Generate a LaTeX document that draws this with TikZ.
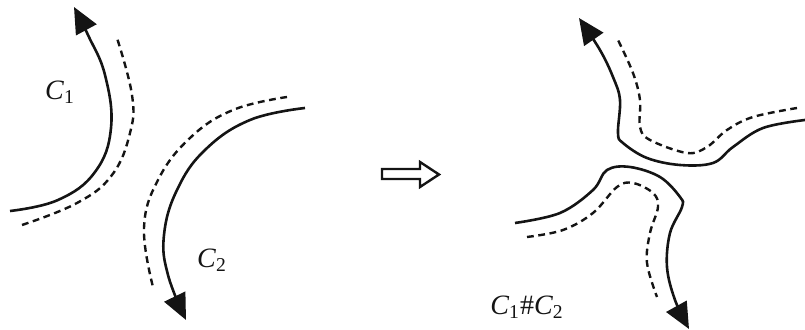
\documentclass[tikz,border=0pt]{standalone}
\usepackage{fontspec}
\setmainfont{Liberation Serif}
\usetikzlibrary{arrows,arrows.meta}
\definecolor{strich}{RGB}{20,20,20}

\begin{document}
\begin{tikzpicture}[strich, x=0.5pt, y=-0.5pt,
    curve/.style={line width=1.3pt, -{Triangle[length=13pt,width=11.5pt]}},
    guide/.style={line width=1.2pt, dash pattern=on 3.4pt off 2.3pt},
    lbl/.style={font=\fontsize{14}{16}\selectfont, inner sep=0pt}]

    \useasboundingbox (0,0) rectangle (805,330);

    % linke Seite: C_1 und C_2
    \draw[curve] plot[smooth, tension=0.7] coordinates {(10,211) (58,200) (95,172) (111,128) (105,75) (88,35) (74,7)};
    \draw[guide] plot[smooth, tension=0.7] coordinates {(22,225) (77,203) (112,175) (130,133) (132,95) (117,38)};

    \draw[curve] plot[smooth, tension=0.7] coordinates {(305,108) (250,120) (205,150) (177,190) (164,235) (168,275) (186,320)};
    \draw[guide] plot[smooth, tension=0.7] coordinates {(287,97) (233,110) (190,138) (158,180) (144,228) (153,287)};

    \node[lbl] (c1) at (60,92) {\textit{C}\textsubscript{1}};
    \node[lbl] (c2) at (212,260) {\textit{C}\textsubscript{2}};

    % Pfeil
    \draw[line width=1.2pt, fill=white] (382,169) -- (420,169) -- (420,162) -- (439,174.5) -- (420,187) -- (420,179) -- (382,179) -- cycle;

    % rechte Seite: C_1 # C_2
    \draw[curve] plot[smooth, tension=0.6] coordinates {(805,120) (763,128) (733,147) (713,163) (680,165) (647,158) (623,143) (618,133) (620,100) (613,77) (600,50) (579,18)};
    \draw[guide] plot[smooth, tension=0.6] coordinates {(797,108) (753,117) (727,130) (707,147) (687,153) (650,140) (640,127) (640,100) (633,73) (618,40)};

    \draw[curve] plot[smooth, tension=0.6] coordinates {(515,223) (560,213) (593,190) (607,170) (630,167) (660,177) (680,197) (682,207) (670,233) (667,267) (675,300) (689,329)};
    \draw[guide] plot[smooth, tension=0.6] coordinates {(527,237) (563,230) (593,213) (617,187) (633,183) (653,193) (658,207) (650,233) (647,263) (657,297)};

    \node[lbl] (c12) at (527,307) {\textit{C}\textsubscript{1}\#\textit{C}\textsubscript{2}};

\end{tikzpicture}
\end{document}
